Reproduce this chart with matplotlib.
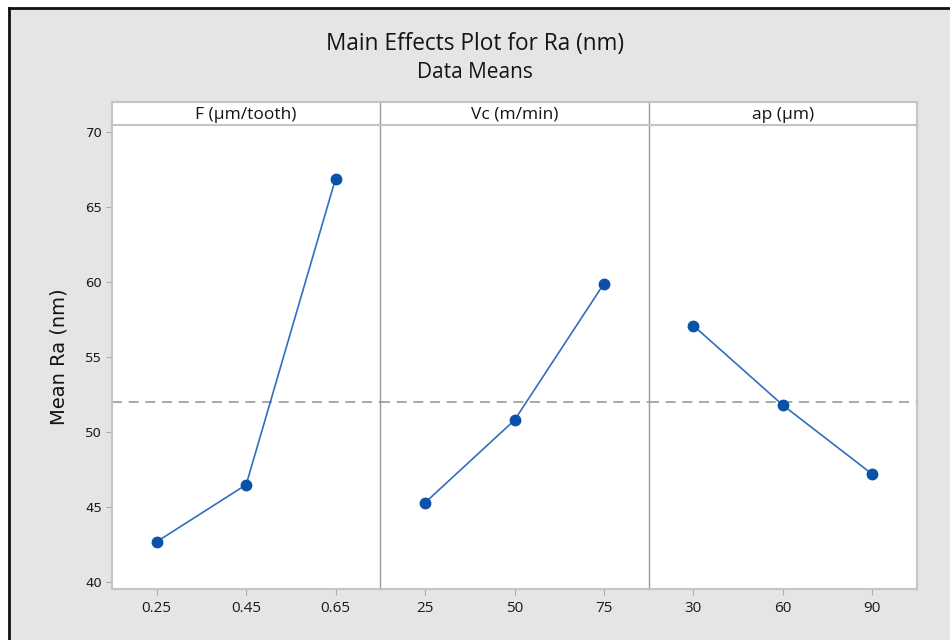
import matplotlib
matplotlib.use("Agg")
import matplotlib.pyplot as plt
from matplotlib.patches import Rectangle
from matplotlib.lines import Line2D

# Factor names and levels
factors = ["F (µm/tooth)", "Vc (m/min)", "ap (µm)"]
levels = [["0.25", "0.45", "0.65"],
          ["25", "50", "75"],
          ["30", "60", "90"]]

# Mean Ra (nm) at each level
f_means = [42.7, 46.5, 66.9]
vc_means = [45.3, 50.8, 59.9]
ap_means = [57.1, 51.8, 47.2]
grand_mean = 52.0

means = [f_means, vc_means, ap_means]

plt.rcParams['font.family'] = ['Open Sans', 'DejaVu Sans']

W, H = 950, 640
fig = plt.figure(figsize=(W / 100, H / 100), dpi=100, facecolor="white")

# grey canvas with a dark frame on top and left
fig.patches.append(Rectangle((10 / W, 0), 1, (H - 9) / H, transform=fig.transFigure,
                             facecolor="#e5e5e5", edgecolor="none", zorder=-10))
fig.lines.append(Line2D([9 / W, 9 / W], [0, (H - 8) / H], transform=fig.transFigure,
                        color="#111111", lw=2, zorder=-9))
fig.lines.append(Line2D([9 / W, 1], [(H - 8) / H, (H - 8) / H], transform=fig.transFigure,
                        color="#111111", lw=2, zorder=-9))

fig.text(0.5, 1 - 44 / H, "Main Effects Plot for Ra (nm)", ha="center", va="center",
         fontsize=16.3, color="#141414")
fig.text(0.5, 1 - 72 / H, "Data Means", ha="center", va="center",
         fontsize=15, color="#141414")

left, right = 112, 917
top, bottom = 125, 589
strip_top = 102
pw = (right - left) / 3

frame_col = "#c4c4c4"
sep_col = "#9a9a9a"

for i in range(3):
    x0 = left + i * pw
    ax = fig.add_axes([x0 / W, (H - bottom) / H, pw / W, (bottom - top) / H])
    ax.set_facecolor("white")
    xs = range(len(levels[i]))
    ax.axhline(grand_mean, color="#9a9a9a", lw=1.2, ls=(0, (6, 4)), zorder=1)
    ax.plot(xs, means[i], color="#2f6fbf", lw=1.2, zorder=2)
    ax.plot(xs, means[i], "o", color="#0a52a8", markersize=7.5, zorder=3)
    ax.set_xlim(-0.5, 2.5)
    ax.set_ylim(39.55, 70.47)
    ax.set_xticks(list(xs))
    ax.set_xticklabels(levels[i], fontsize=11, color="#1a1a1a")
    ax.tick_params(axis="x", length=4, color="#aaaaaa", pad=5)
    for side, sp in ax.spines.items():
        sp.set_color(frame_col)
        sp.set_linewidth(1.5)
    if i > 0:
        ax.spines["left"].set_color(sep_col)
        ax.spines["left"].set_linewidth(1.0)
    if i < 2:
        ax.spines["right"].set_visible(False)
    if i == 0:
        ax.set_yticks([40, 45, 50, 55, 60, 65, 70])
        ax.tick_params(axis="y", length=4, color="#aaaaaa", labelsize=9.5,
                       labelcolor="#1a1a1a", pad=3)
        for t in ax.get_yticklabels():
            t.set_fontfamily("DejaVu Sans")
        ax.set_ylabel("Mean Ra (nm)", fontsize=14, family="DejaVu Sans",
                      color="#141414", labelpad=12)
    else:
        ax.set_yticks([])

    # factor strip above each panel
    sx = fig.add_axes([x0 / W, (H - top) / H, pw / W, (top - strip_top) / H])
    sx.set_facecolor("white")
    sx.set_xticks([])
    sx.set_yticks([])
    for side, sp in sx.spines.items():
        sp.set_color(frame_col)
        sp.set_linewidth(1.5)
    if i > 0:
        sx.spines["left"].set_color(sep_col)
        sx.spines["left"].set_linewidth(1.0)
    if i < 2:
        sx.spines["right"].set_visible(False)
    sx.text(0.5, 0.45, factors[i], ha="center", va="center", fontsize=12.5,
            color="#141414", transform=sx.transAxes)

fig.savefig("out.png", dpi=100, facecolor=fig.get_facecolor())
